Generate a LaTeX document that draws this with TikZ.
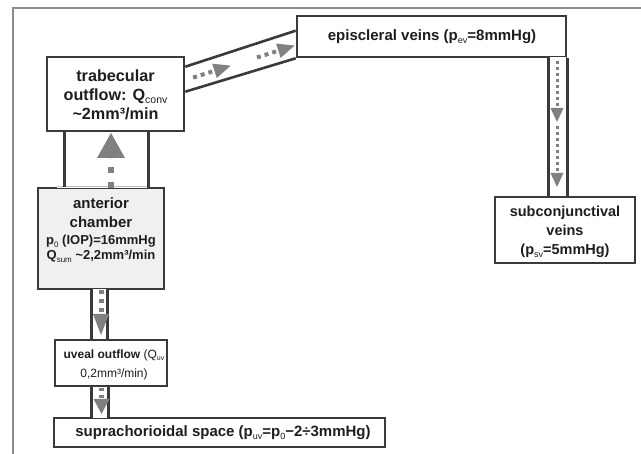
\documentclass[tikz,border=0pt]{standalone}
\usepackage{fontspec}
\setmainfont{Liberation Sans}
\usetikzlibrary{arrows.meta}
\definecolor{bord}{HTML}{3A3A3A}
\definecolor{flowc}{HTML}{808080}
\definecolor{framec}{HTML}{8C8C8C}
\definecolor{antfill}{HTML}{F0F0F0}
\definecolor{txtc}{HTML}{1E1E1E}
\newcommand\lo[2][9]{\raisebox{-0.35ex}{\fontsize{#1}{#1}\selectfont\mdseries #2}}
\begin{document}
\begin{tikzpicture}[x=1pt,y=-1pt,
  box/.style={draw=bord,line width=2.6pt,inner sep=0pt,fill=white,rectangle},
  wall/.style={draw=bord,line width=2.6pt},
  gapw/.style={draw=white,line width=3pt},
  txt/.style={font=\fontsize{15}{19}\selectfont\bfseries,align=center,inner sep=0pt,text=txtc},
  bigtxt/.style={font=\fontsize{16.2}{19}\selectfont\bfseries,align=center,inner sep=0pt,text=txtc},
  smalltxt/.style={font=\fontsize{13}{15}\selectfont\bfseries,align=center,inner sep=0pt,text=txtc},
  flowbig/.style={draw=flowc,line width=6pt,dash pattern=on 6pt off 9pt,-{Triangle[width=28pt,length=25pt,line width=0pt]}},
  flowdiag/.style={draw=flowc,line width=4pt,dash pattern=on 4pt off 4pt,-{Triangle[width=15pt,length=17pt,line width=0pt]}},
  flowvert/.style={draw=flowc,line width=3pt,dash pattern=on 3pt off 3pt,-{Triangle[width=13pt,length=14pt,line width=0pt]}},
  flowuv/.style={draw=flowc,line width=5pt,dash pattern=on 4pt off 5pt,-{Triangle[width=16pt,length=21pt,line width=0pt]}},
  flowsp/.style={draw=flowc,line width=5pt,dash pattern=on 3pt off 4pt,-{Triangle[width=16pt,length=15pt,line width=0pt]}}
]
\useasboundingbox (0,0) rectangle (641,454);
\fill[white] (0,0) rectangle (641,454);
% frame
\draw[framec,line width=1.6pt] (641,8) -- (13,8) -- (13,454);

% boxes
\node[box,minimum width=137pt,minimum height=74pt] (trab) at (115.5,94) {};
\node[box,fill=antfill,minimum width=126pt,minimum height=101pt] (ant) at (101,238.5) {};
\node[box,minimum width=112pt,minimum height=46pt] (uv) at (111,363) {};
\node[box,minimum width=331pt,minimum height=29pt] (sup) at (219.5,432.5) {};
\node[box,minimum width=269pt,minimum height=41pt] (epi) at (431.5,36.5) {};
\node[box,minimum width=140pt,minimum height=66pt] (sub) at (565,230) {};

% channel trabecular - anterior chamber
\draw[gapw] ([xshift=20.5pt]ant.north west) -- ([xshift=-18.5pt]ant.north east);
\draw[draw=black!25,line width=0.8pt] ([xshift=20.5pt]ant.north west) -- ([xshift=-18.5pt]ant.north east);
\draw[wall] ([xshift=19pt]trab.south west) -- ([xshift=19pt]trab.south west |- ant.north);
\draw[wall] ([xshift=-37pt]trab.south east) -- ([xshift=-37pt]trab.south east |- ant.north);

% channel anterior chamber - uveal outflow
\draw[gapw] ([xshift=56.5pt]ant.south west) -- ([xshift=69.5pt]ant.south west);
\draw[wall] ([xshift=55pt]ant.south west) -- ([xshift=55pt]ant.south west |- uv.north);
\draw[wall] ([xshift=71pt]ant.south west) -- ([xshift=71pt]ant.south west |- uv.north);

% channel uveal outflow - suprachorioidal space
\draw[gapw] ([xshift=39.5pt]uv.south west |- sup.north) -- ([xshift=53.5pt]uv.south west |- sup.north);
\draw[wall] ([xshift=38pt]uv.south west) -- ([xshift=38pt]uv.south west |- sup.north);
\draw[wall] ([xshift=55pt]uv.south west) -- ([xshift=55pt]uv.south west |- sup.north);

% channel trabecular - episcleral
\draw[wall] ([yshift=-11pt]trab.north east) -- ([yshift=-16pt]epi.north west);
\draw[wall] ([yshift=-36pt]trab.north east) -- (epi.south west);

% channel episcleral - subconjunctival
\draw[gapw] ([xshift=-17.5pt]epi.south east) -- ([xshift=-1.5pt]epi.south east);
\draw[wall] ([xshift=-19pt]epi.south east) -- ([xshift=-19pt]epi.south east |- sub.north);
\draw[wall] (epi.south east) -- (epi.south east |- sub.north);

% flow arrows
\coordinate (a1s) at (111,188); \coordinate (a1e) at (111,133);
\draw[flowbig] (a1s) -- (a1e);
\coordinate (d1s) at (193.1,77.6); \coordinate (d1e) at (230.7,65.7);
\coordinate (d2s) at (257,57.5); \coordinate (d2e) at (294.6,45.6);
\draw[flowdiag] (d1s) -- (d1e);
\draw[flowdiag] (d2s) -- (d2e);
\coordinate (v1s) at (557,61); \coordinate (v1e) at (557,122);
\coordinate (v2s) at (557,126); \coordinate (v2e) at (557,187);
\draw[flowvert] (v1s) -- (v1e);
\draw[flowvert] (v2s) -- (v2e);
\coordinate (u1s) at (101,290); \coordinate (u1e) at (101,335);
\draw[flowuv] (u1s) -- (u1e);
\coordinate (s1s) at (101.5,388); \coordinate (s1e) at (101.5,414);
\draw[flowsp] (s1s) -- (s1e);

% texts
\node[bigtxt] (trabT) at (115.5,95) {trabecular\\outflow: Q\lo[10.5]{conv}\\\textasciitilde2mm³/min};
\node[txt] (antT1) at (101,213) {anterior\\chamber};
\node[smalltxt] (antT2) at (101,249) {p\lo[8]{0} (IOP)=16mmHg\\Q\lo[8]{sum} \textasciitilde2,2mm³/min};
\node[font=\fontsize{12}{19}\selectfont,align=center,inner sep=0pt,text=txtc] (uvT) at (114,365) {{\bfseries uveal outflow} (Q\lo[7]{uv}\\0,2mm³/min)};
\node[txt] (supT) at (223,433) {suprachorioidal space (p\lo{uv}=p\lo{0}−2÷3mmHg)};
\node[txt] (epiT) at (432,37) {episcleral veins (p\lo{ev}=8mmHg)};
\node[font=\fontsize{14.5}{19}\selectfont\bfseries,align=center,inner sep=0pt,text=txtc] (subT) at (565,232) {subconjunctival\\veins\\(p\lo{sv}=5mmHg)};
\end{tikzpicture}
\end{document}
